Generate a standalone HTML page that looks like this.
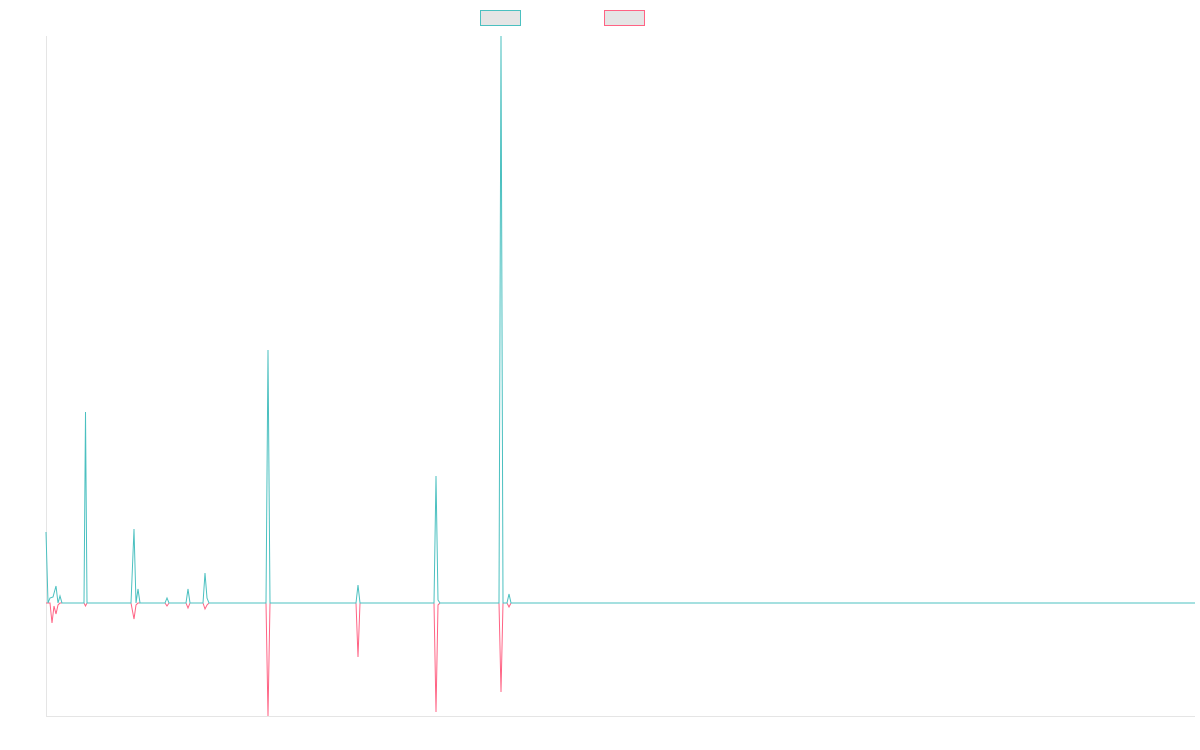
<!DOCTYPE html>
<html><head><style>body{margin:0;background:#fff}svg{display:block}</style></head>
<body>
<svg width="1200" height="750" xmlns="http://www.w3.org/2000/svg">
<rect x="480.5" y="10.5" width="40" height="15" fill="#e5e5e5" stroke="#4bc0c0" stroke-width="1"/>
<rect x="604.5" y="10.5" width="40" height="15" fill="#e5e5e5" stroke="#ff6384" stroke-width="1"/>
<line x1="46.5" y1="36" x2="46.5" y2="716" stroke="#e5e5e5" stroke-width="1"/>
<line x1="46" y1="716.5" x2="1195" y2="716.5" stroke="#e5e5e5" stroke-width="1"/>
<polyline fill="none" stroke="#ff6384" stroke-width="1" points="46,603 50,603 52,623 54,606 56,614 58,605 60,603 84,603 85.5,606 87,603 131,603 134,619 136,605 138,603 165,603 167,606 169,603 186,603 188,608 190,603 203,603 205,609 207,605 209,603 266,603 268,716 270,603 356,603 358,657 360,603 434,603 436,712 438,605 440,603 499,603 501,692 503,603 507,603 509,607 511,603 1195,603"/>
<polyline fill="none" stroke="#4bc0c0" stroke-width="1" points="46,532 48,603 50,598 53,597 56,586 58,603 60,596 62,603 84,603 85.5,412 87,603 131,603 134,529 136,603 138,589 140,603 165,603 167,598 169,603 186,603 188,589 190,603 203,603 205,573 207,598 209,603 266,603 268,350 270,603 356,603 358,585 360,603 434,603 436,476 438,600 440,603 499,603 501,36 503,603 507,603 509,594 511,603 1195,603"/>
</svg>
</body></html>
